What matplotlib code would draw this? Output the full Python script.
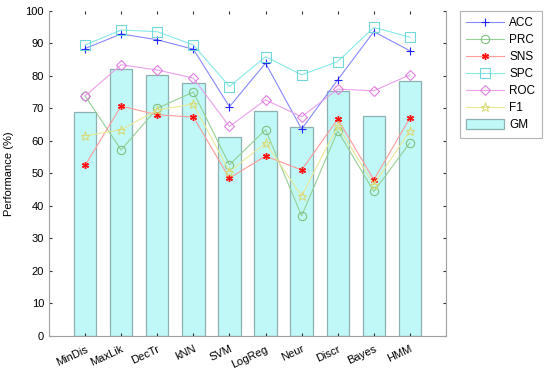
import matplotlib
matplotlib.use("Agg")
import matplotlib.pyplot as plt
import numpy as np

plt.rcParams['font.family'] = ['Liberation Sans', 'DejaVu Sans']

categories = ["MinDis", "MaxLik", "DecTr", "kNN", "SVM", "LogReg", "Neur", "Discr", "Bayes", "HMM"]
gm  = [68.8, 82.0, 80.2, 77.8, 61.2, 69.1, 64.2, 75.4, 67.6, 78.4]
acc = [88.4, 92.9, 91.1, 88.2, 70.5, 83.9, 63.6, 78.8, 93.6, 87.7]
prc = [73.8, 57.2, 70.0, 75.0, 52.6, 63.4, 36.9, 63.0, 44.4, 59.4]
sns = [52.4, 70.7, 68.0, 67.3, 48.5, 55.3, 51.0, 66.7, 48.0, 67.0]
spc = [89.5, 94.1, 93.6, 89.5, 76.7, 85.9, 80.3, 84.4, 94.9, 91.9]
roc = [73.8, 83.4, 81.8, 79.3, 64.4, 72.6, 67.4, 75.9, 75.4, 80.3]
f1  = [61.5, 63.4, 69.5, 71.3, 50.5, 59.3, 43.0, 64.6, 46.5, 63.1]
yticks = [0, 10, 20, 30, 40, 50, 60, 70, 80, 90, 100]

fig = plt.figure(figsize=(5.5, 3.75), dpi=100)
ax = fig.add_axes([0.089, 0.105, 0.722, 0.866])
x = np.arange(1, len(categories) + 1)

bars = ax.bar(x, gm, width=0.62, color='#c0f8f8', edgecolor='#8fb0b0', linewidth=0.9, label='GM', zorder=1)

lw = 0.8
l_acc, = ax.plot(x, acc, color='#8888ff', lw=lw, marker='+', ms=6, mec='#2222ff', mew=0.8, label='ACC', zorder=3)
l_prc, = ax.plot(x, prc, color='#95d095', lw=lw, marker='o', ms=6, mfc='none', mec='#80c080', mew=0.8, label='PRC', zorder=3)
l_sns, = ax.plot(x, sns, color='#ff9a9a', lw=lw, marker=(6, 2, 0), ms=5, mec='#ff1010', mew=1.0, label='SNS', zorder=3)
l_spc, = ax.plot(x, spc, color='#88e8e8', lw=lw, marker='s', ms=6.5, mfc='none', mec='#70d8d8', mew=0.8, label='SPC', zorder=3)
l_roc, = ax.plot(x, roc, color='#eaa0ea', lw=lw, marker='D', ms=5.5, mfc='none', mec='#e080e0', mew=0.8, label='ROC', zorder=3)
l_f1,  = ax.plot(x, f1, color='#e8e898', lw=lw, marker='*', ms=6.5, mfc='none', mec='#d8d870', mew=0.7, label='F1', zorder=3)

ax.set_xlim(0, 11)
ax.set_ylim(0, 100)
ax.set_xticks(x)
ax.set_xticklabels(categories, rotation=25, ha='right', rotation_mode='anchor', fontsize=8)
ax.set_yticks(yticks)
ax.tick_params(axis='y', labelsize=8, direction='in', length=2.5, right=True, color='#333333')
ax.tick_params(axis='x', direction='in', length=2.5, top=True, color='#333333', pad=6)
ax.set_ylabel('Performance (%)', fontsize=8, labelpad=8)
for s in ['left', 'bottom', 'right']:
    ax.spines[s].set_color('#a0a0a0')
    ax.spines[s].set_linewidth(0.8)
ax.spines['top'].set_visible(False)

leg = fig.legend(handles=[l_acc, l_prc, l_sns, l_spc, l_roc, l_f1, bars],
                 loc='upper left', bbox_to_anchor=(0.836, 0.971), fontsize=8.5,
                 frameon=True, fancybox=False, edgecolor='#a0a0a0', handlelength=3.2,
                 handleheight=0.9, borderpad=0.55, labelspacing=0.42, handletextpad=0.45,
                 borderaxespad=0)
leg.get_frame().set_linewidth(0.8)

fig.savefig('out.png', dpi=100)
